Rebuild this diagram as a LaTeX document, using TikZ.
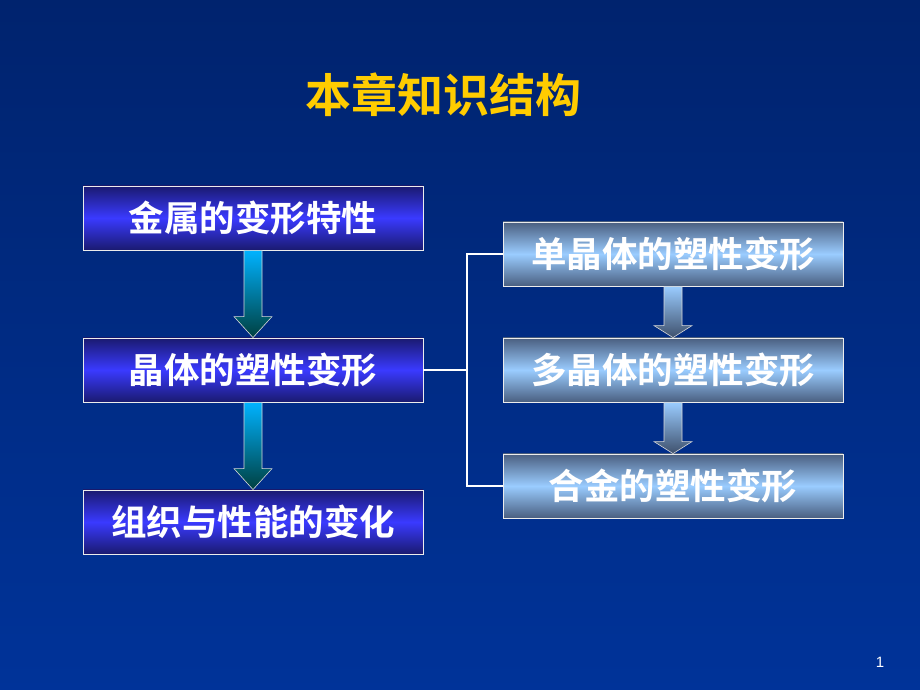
\documentclass[tikz,border=0pt]{standalone}
\usepackage{fontspec}
\newfontfamily\cjk{Noto Sans CJK SC Bold}
\newfontfamily\numfont{Liberation Sans}
\usetikzlibrary{calc}
\definecolor{bgtop}{HTML}{00236E}
\definecolor{bgbot}{HTML}{003399}
\definecolor{ltop}{HTML}{1A1A70}
\definecolor{lmid}{HTML}{3A3AFF}
\definecolor{rtop}{HTML}{4A5F80}
\definecolor{rmid}{HTML}{9ACCFF}
\definecolor{title}{HTML}{FFCC00}
\tikzset{
 lbox/.style={draw=white!85!gray, line width=0.8pt, minimum width=340pt, minimum height=64pt, inner sep=0pt,
   top color=ltop, bottom color=ltop, middle color=lmid, font=\cjk\fontsize{35.5}{35.5}\selectfont, text=white},
 rbox/.style={lbox, top color=rtop, bottom color=rtop, middle color=rmid},
 larrow/.style={draw=white!70!gray, line width=0.6pt, top color=cyan!70!blue, bottom color=teal!50!black},
 rarrow/.style={draw=white!70!gray, line width=0.6pt, top color=rmid, bottom color=rtop!85!black},
 conn/.style={draw=white, line width=1.5pt}
}
\newcommand{\myarrow}[4]{% style, from node, to node, head length
  \shade[#1] ($(#2.south)+(-9,0)$) -- ($(#2.south)+(9,0)$) -- ($(#3.north)+(9,#4)$) -- ($(#3.north)+(19,#4)$)
   -- (#3.north) -- ($(#3.north)+(-19,#4)$) -- ($(#3.north)+(-9,#4)$) -- cycle;}
\begin{document}
\begin{tikzpicture}[x=1pt,y=1pt]
\shade[top color=bgtop, bottom color=bgbot] (0,0) rectangle (920,690);
\useasboundingbox (0,0) rectangle (920,690);
\node[text=title, font=\cjk\fontsize{46}{46}\selectfont] (t) at (443,595) {本章知识结构};
\node[lbox] (a) at (253,472) {金属的变形特性};
\node[lbox] (b) at (253,320) {晶体的塑性变形};
\node[lbox] (c) at (253,168) {组织与性能的变化};
\node[rbox] (d) at (673,436) {单晶体的塑性变形};
\node[rbox] (e) at (673,320) {多晶体的塑性变形};
\node[rbox] (f) at (673,204) {合金的塑性变形};
\myarrow{larrow}{a}{b}{21}
\myarrow{larrow}{b}{c}{21}
\myarrow{rarrow}{d}{e}{12}
\myarrow{rarrow}{e}{f}{12}
\coordinate (j) at (467,320);
\draw[conn] (b.east) -- (j);
\draw[conn] (d.west) -| (j) |- (f.west);
\node[text=white, font=\numfont\fontsize{15}{15}\selectfont] (p) at (880,28) {1};
\end{tikzpicture}
\end{document}
